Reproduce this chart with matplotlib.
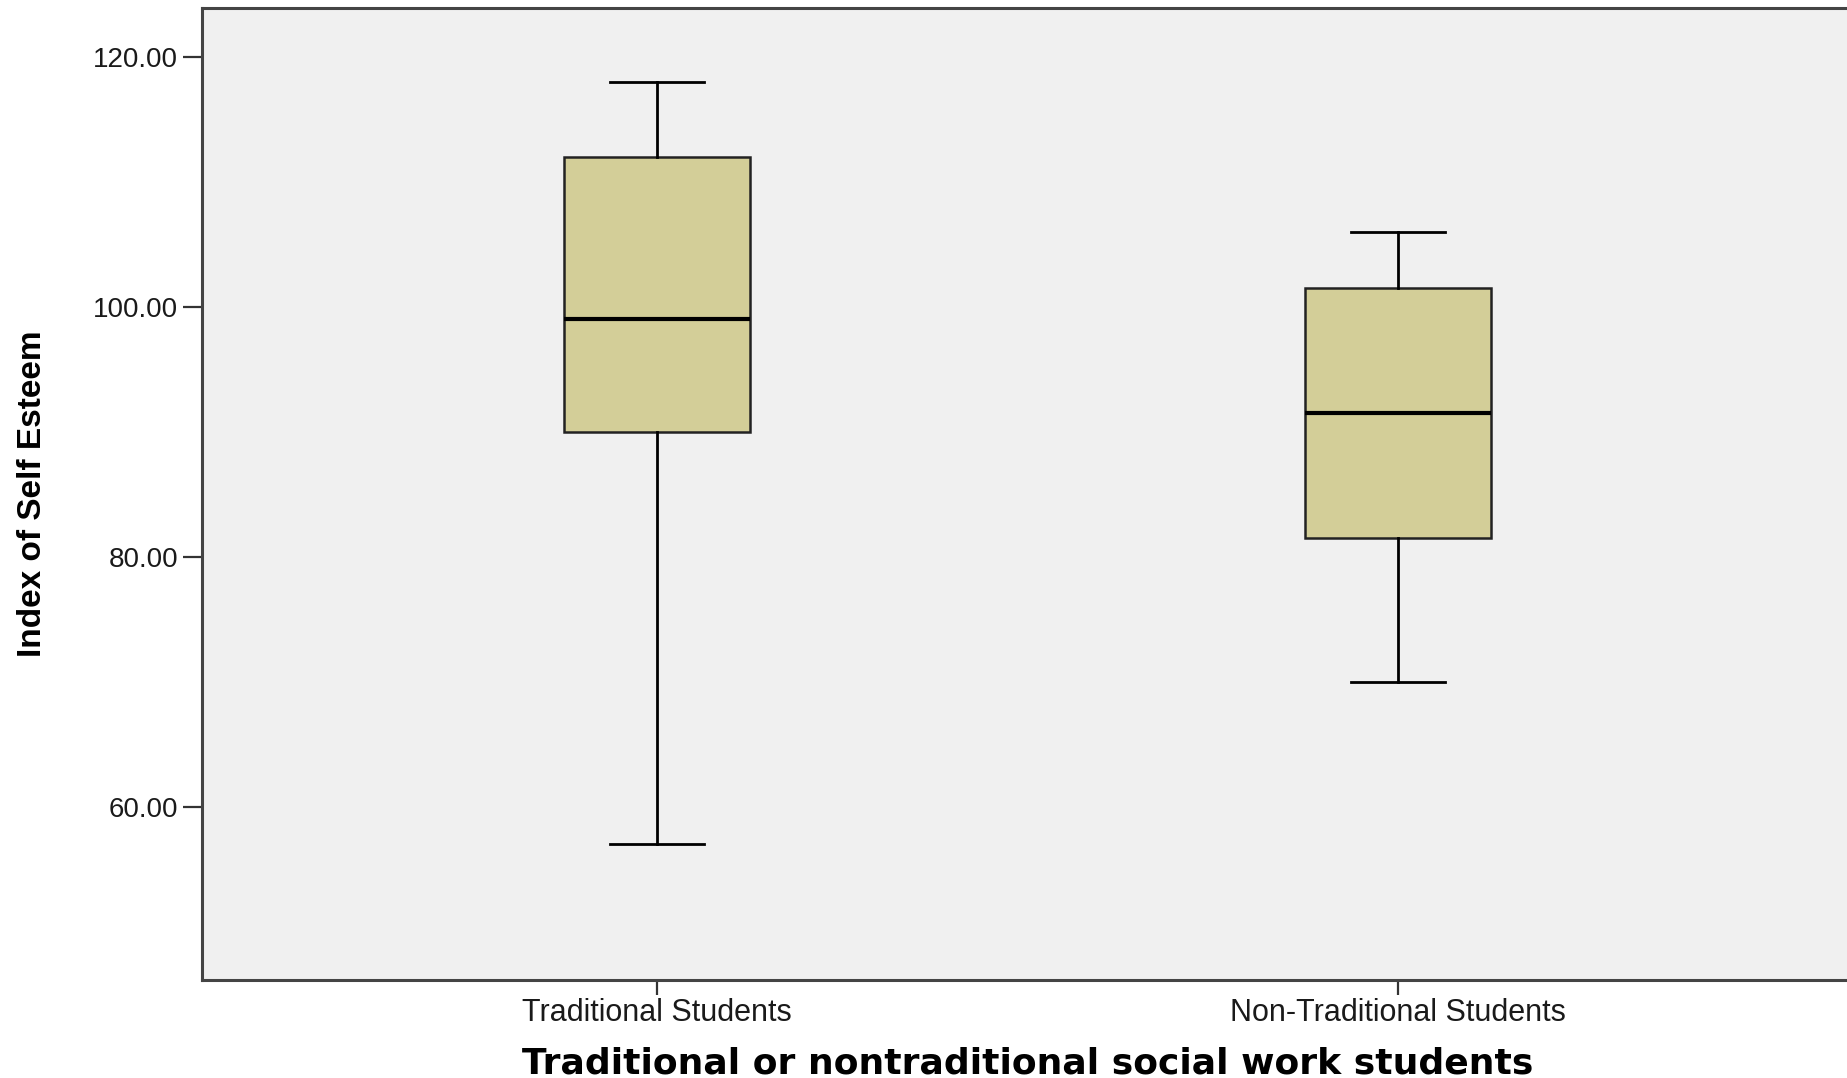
import matplotlib
matplotlib.use("Agg")
import matplotlib.pyplot as plt

# five-number summaries
groups = ["Traditional Students", "Non-Traditional Students"]
whisker_low = [57.0, 70.0]
q1 = [90.0, 81.5]
median = [99.0, 91.5]
q3 = [112.0, 101.5]
whisker_high = [118.0, 106.0]

yticks = [60, 80, 100, 120]

stats = []
for i, name in enumerate(groups):
    stats.append({
        "label": name,
        "whislo": whisker_low[i],
        "q1": q1[i],
        "med": median[i],
        "q3": q3[i],
        "whishi": whisker_high[i],
        "fliers": [],
    })

fig = plt.figure(figsize=(18.47, 10.78), dpi=100)
ax = fig.add_axes([0.10937, 0.09091, 0.89388, 0.90167])
ax.set_facecolor("#f0f0f0")

ax.bxp(
    stats,
    positions=[1, 2],
    widths=0.25,
    capwidths=0.127,
    patch_artist=True,
    showfliers=False,
    boxprops=dict(facecolor="#d3ce98", edgecolor="#222222", linewidth=1.8),
    medianprops=dict(color="black", linewidth=3),
    whiskerprops=dict(color="black", linewidth=2),
    capprops=dict(color="black", linewidth=2),
)

ax.set_xlim(0.386, 2.614)
ax.set_ylim(46.16, 123.92)

ax.set_yticks(yticks)
ax.set_yticklabels([f"{v:.2f}" for v in yticks])
ax.set_xticks([1, 2])
ax.set_xticklabels(groups)

for s in ax.spines.values():
    s.set_color("#444444")
    s.set_linewidth(2.2)

ax.tick_params(axis="y", length=13.5, width=1.6, color="#333333", pad=3.6,
               labelsize=20, labelcolor="#1a1a1a")
ax.tick_params(axis="x", length=10.8, width=1.6, color="#333333", pad=2,
               labelsize=22, labelcolor="#1a1a1a")
for lbl in ax.get_xticklabels() + ax.get_yticklabels():
    lbl.set_family(["Liberation Sans", "DejaVu Sans"])

ax.set_xlabel("Traditional or nontraditional social work students",
              fontsize=26, fontweight="bold", family="DejaVu Sans")
ax.xaxis.label.set_va("baseline")
ax.xaxis.set_label_coords(0.5, -0.0957)

ax.set_ylabel("Index of Self Esteem", fontsize=24, fontweight="bold",
              family=["Liberation Sans Narrow", "Liberation Sans", "DejaVu Sans"])
ax.yaxis.label.set_va("center")
ax.yaxis.set_label_coords(-0.1024, 0.5)

fig.savefig("out.png", dpi=100, facecolor="white")
